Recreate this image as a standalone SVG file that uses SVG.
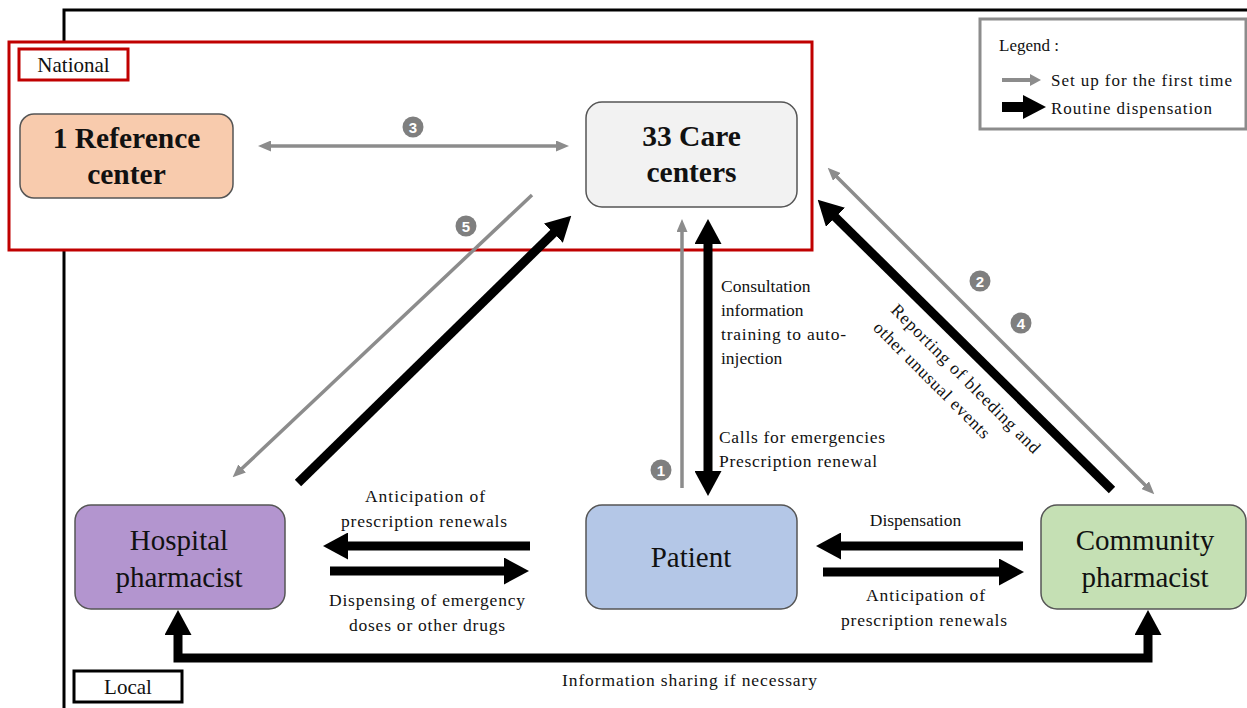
<svg xmlns="http://www.w3.org/2000/svg" width="1247" height="708" viewBox="0 0 1247 708">
<style>
.t{font-family:"Liberation Serif","Times New Roman",serif;fill:#111}
.lbl{font-size:17.5px}
.node{stroke:#555;stroke-width:1.5}
.big{font-size:29px}
.bold{font-size:29.5px;font-weight:bold}
.g{stroke:#8c8c8c;stroke-width:3.5;fill:none}
.k{stroke:#000;stroke-width:9;fill:none}
.num circle{fill:#7f7f7f}
.num text{font-family:"Liberation Sans",Arial,sans-serif;font-size:15px;font-weight:bold;fill:#fff;text-anchor:middle}
</style>
<defs>
<marker id="ab" viewBox="0 0 25 27" refX="1" refY="13.5" markerWidth="25" markerHeight="27" markerUnits="userSpaceOnUse" orient="auto-start-reverse"><path d="M0,0 L25,13.5 L0,27 z" fill="#000"/></marker>
<marker id="ag" viewBox="0 0 13 11" refX="1" refY="5.5" markerWidth="13" markerHeight="11" markerUnits="userSpaceOnUse" orient="auto-start-reverse"><path d="M0,0 L13,5.5 L0,11 z" fill="#8c8c8c"/></marker>
</defs>
<rect width="1247" height="708" fill="#fff"/>
<!-- outer frame -->
<path d="M64,708 V10 H1247" fill="none" stroke="#000" stroke-width="3"/>
<!-- national zone -->
<g id="national">
<rect x="9" y="42" width="803" height="208" fill="#fff" stroke="#c00000" stroke-width="3"/>
<rect x="19" y="49" width="109" height="31" fill="#fff" stroke="#c00000" stroke-width="3"/>
<text class="t" x="73.5" y="72" font-size="21" text-anchor="middle">National</text>
</g>
<g id="local">
<rect x="74" y="671" width="108" height="31" fill="#fff" stroke="#000" stroke-width="3"/>
<text class="t" x="128" y="694" font-size="21" text-anchor="middle">Local</text>
</g>
<!-- legend -->
<g id="legend">
<rect x="980" y="19" width="266" height="110" fill="#fff" stroke="#8c8c8c" stroke-width="3"/>
<text class="t" x="999" y="51" font-size="17">Legend :</text>
<line x1="1002" y1="80" x2="1031" y2="80" stroke="#8c8c8c" stroke-width="4"/>
<polygon points="1030,74 1041,80 1030,86" fill="#8c8c8c"/>
<text class="t" x="1051" y="86" font-size="17" textLength="181" lengthAdjust="spacing">Set up for the first time</text>
<line x1="1002" y1="107" x2="1024" y2="107" stroke="#000" stroke-width="10"/>
<polygon points="1023,95 1046,107 1023,119" fill="#000"/>
<text class="t" x="1051" y="114" font-size="17" textLength="161" lengthAdjust="spacing">Routine dispensation</text>
</g>
<!-- connectors -->
<g id="connectors">
<line class="g" x1="270" y1="146" x2="557" y2="146" marker-start="url(#ag)" marker-end="url(#ag)"/>
<line class="g" x1="532" y1="195" x2="241.4" y2="469.1" marker-end="url(#ag)"/>
<line class="k" x1="298" y1="483" x2="554.1" y2="232.5" marker-end="url(#ab)"/>
<line class="g" x1="682" y1="488" x2="682" y2="231" marker-end="url(#ag)"/>
<line class="k" x1="708" y1="243" x2="708" y2="472" marker-start="url(#ab)" marker-end="url(#ab)"/>
<line class="g" x1="836.2" y1="176.2" x2="1145.8" y2="485.8" marker-start="url(#ag)" marker-end="url(#ag)"/>
<line class="k" x1="1112" y1="490" x2="834.8" y2="216.6" marker-end="url(#ab)"/>
<line class="k" x1="530" y1="546" x2="347" y2="546" marker-end="url(#ab)"/>
<line class="k" x1="330" y1="571" x2="505" y2="571" marker-end="url(#ab)"/>
<line class="k" x1="1023" y1="546" x2="840" y2="546" marker-end="url(#ab)"/>
<line class="k" x1="823" y1="572" x2="1000" y2="572" marker-end="url(#ab)"/>
<path class="k" d="M178,634 V658 H1148 V634" marker-start="url(#ab)" marker-end="url(#ab)"/>
<g class="num"><circle cx="661" cy="470" r="10.5"/><text x="661" y="475.5">1</text></g>
<g class="num"><circle cx="980" cy="281" r="10.5"/><text x="980" y="286.5">2</text></g>
<g class="num"><circle cx="413" cy="127" r="10.5"/><text x="413" y="132.5">3</text></g>
<g class="num"><circle cx="1021" cy="323" r="10.5"/><text x="1021" y="328.5">4</text></g>
<g class="num"><circle cx="466" cy="226" r="10.5"/><text x="466" y="231.5">5</text></g>
<text class="t lbl" x="721" y="292">Consultation</text>
<text class="t lbl" x="721" y="316">information</text>
<text class="t lbl" x="721" y="340" textLength="125" lengthAdjust="spacing">training to auto-</text>
<text class="t lbl" x="721" y="364">injection</text>
<text class="t lbl" x="719" y="443" textLength="166" lengthAdjust="spacing">Calls for emergencies</text>
<text class="t lbl" x="719" y="467" textLength="158" lengthAdjust="spacing">Prescription renewal</text>
<g transform="translate(890,311) rotate(45)">
<text class="t lbl" x="0" y="0" textLength="203" lengthAdjust="spacing">Reporting of bleeding and</text>
<text class="t lbl" x="0" y="25" textLength="157" lengthAdjust="spacing">other unusual events</text>
</g>
<text class="t lbl" x="425" y="502" text-anchor="middle" textLength="120" lengthAdjust="spacing">Anticipation of</text>
<text class="t lbl" x="424" y="527" text-anchor="middle" textLength="166" lengthAdjust="spacing">prescription renewals</text>
<text class="t lbl" x="427" y="606" text-anchor="middle" textLength="196" lengthAdjust="spacing">Dispensing of emergency</text>
<text class="t lbl" x="427" y="631" text-anchor="middle" textLength="156" lengthAdjust="spacing">doses or other drugs</text>
<text class="t lbl" x="915.5" y="526" text-anchor="middle">Dispensation</text>
<text class="t lbl" x="925.5" y="601" text-anchor="middle" textLength="119" lengthAdjust="spacing">Anticipation of</text>
<text class="t lbl" x="924" y="626" text-anchor="middle" textLength="166" lengthAdjust="spacing">prescription renewals</text>
<text class="t lbl" x="689.5" y="686" text-anchor="middle" textLength="255" lengthAdjust="spacing">Information sharing if necessary</text>
</g>
<!-- nodes -->
<g id="reference-center">
<rect class="node" x="20" y="114" width="213" height="84" rx="14" fill="#f8cbad"/>
<text class="t bold" x="126.5" y="148" text-anchor="middle">1 Reference</text>
<text class="t bold" x="126.5" y="184" text-anchor="middle">center</text>
</g>
<g id="care-centers">
<rect class="node" x="586" y="102" width="211" height="105" rx="16" fill="#f2f2f2"/>
<text class="t bold" x="691.5" y="146" text-anchor="middle">33 Care</text>
<text class="t bold" x="691.5" y="182" text-anchor="middle">centers</text>
</g>
<g id="hospital-pharmacist">
<rect class="node" x="75" y="505" width="210" height="104" rx="16" fill="#b395cf"/>
<text class="t big" x="179" y="550" text-anchor="middle">Hospital</text>
<text class="t big" x="179" y="587" text-anchor="middle">pharmacist</text>
</g>
<g id="patient">
<rect class="node" x="586" y="505" width="211" height="104" rx="16" fill="#b4c7e7"/>
<text class="t big" x="691" y="567" text-anchor="middle">Patient</text>
</g>
<g id="community-pharmacist">
<rect class="node" x="1041" y="505" width="205" height="104" rx="16" fill="#c5e0b4"/>
<text class="t big" x="1145" y="550" text-anchor="middle">Community</text>
<text class="t big" x="1145" y="587" text-anchor="middle">pharmacist</text>
</g>
</svg>
